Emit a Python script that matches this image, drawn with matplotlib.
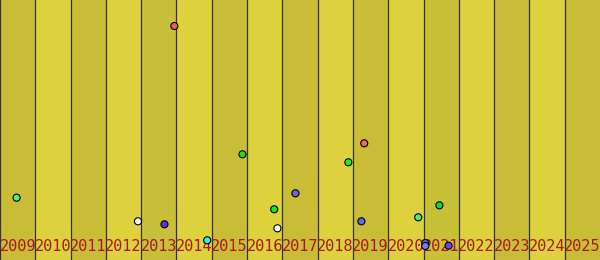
import matplotlib
matplotlib.use("Agg")
import matplotlib.pyplot as plt

# --- data ---
years = list(range(2009, 2026))
band_colors = ["#c9bd38", "#ddd23e", "#c9bd38", "#ddd23e", "#c8c03a", "#ddd23e",
               "#c9bd38", "#ddd23e", "#c9bd38", "#ddd23e", "#c9bd38", "#ddd23e",
               "#c8c036", "#ddd23e", "#c9bd38", "#ddd23e", "#c9bd38"]

point_x = [2008.97, 2012.41, 2013.16, 2013.44, 2014.37, 2015.37, 2016.27, 2016.36,
           2016.87, 2018.37, 2018.74, 2018.82, 2020.35, 2020.95, 2020.55, 2020.55,
           2021.21]
point_y = [62.3, 38.7, 35.7, 234.0, 19.7, 105.7, 50.7, 31.7,
           66.7, 97.7, 38.7, 116.7, 42.7, 54.7, 17.0, 14.0,
           14.3]
point_colors = ["#55ee77", "#ffffff", "#5533ee", "#f25a5a", "#33eeee", "#22dd22",
                "#11ee11", "#ffffff", "#6666ee", "#22ee22", "#6666ee", "#ee6666",
                "#55ee66", "#11dd11", "#5566ee", "#6688ee", "#6644ee"]

# --- figure ---
fig = plt.figure(figsize=(6.0, 2.6), dpi=100)
ax = fig.add_axes([0, 0, 1, 1])
ax.set_xlim(years[0] - 0.5, years[-1] + 0.5)
ax.set_ylim(0, 260)
ax.axis("off")

for yr, c in zip(years, band_colors):
    ax.axvspan(yr - 0.5, yr + 0.5, color=c, lw=0, zorder=0)
for yr in years:
    ax.axvline(yr - 0.5, color="#333340", lw=0.9, zorder=1)

for yr in years:
    ax.text(yr, 9, str(yr), ha="center", va="baseline", color="#a81818",
            family="DejaVu Sans Mono", fontsize=11, zorder=2)

ax.scatter(point_x, point_y, s=26, c=point_colors, edgecolors="black",
           linewidths=0.8, zorder=3)

fig.savefig("out.png", dpi=100)
